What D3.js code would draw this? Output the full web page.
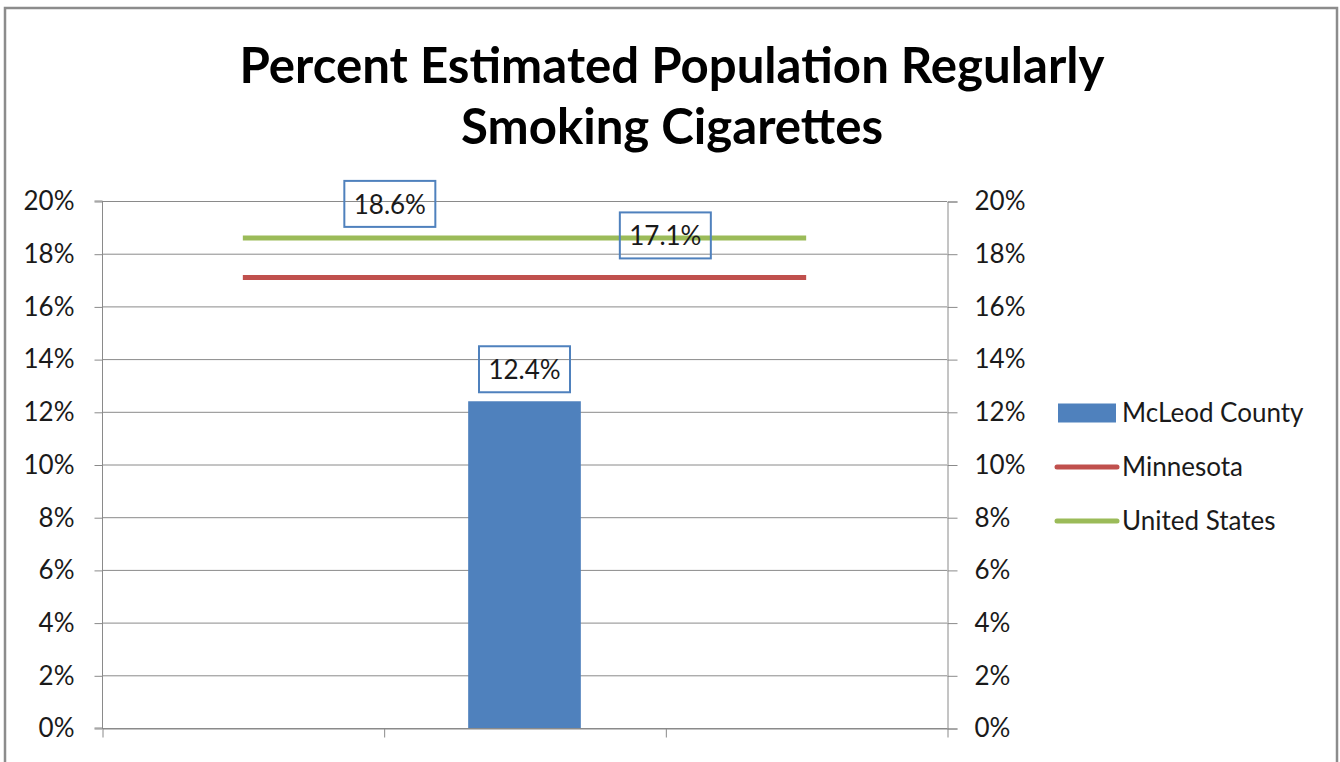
<!DOCTYPE html>
<html>
<head>
<meta charset="utf-8">
<script src="https://cdn.jsdelivr.net/npm/d3@7"></script>
<style>
  html, body { margin: 0; padding: 0; background: #fff; }
  svg { display: block; }
  text { font-family: Lato, "Liberation Sans", sans-serif; fill: #1a1a1a; }
</style>
</head>
<body>
<svg id="chart" width="1340" height="762"></svg>
<script>
// Three unlabeled category slots; the county bar sits in the middle one
const categories = ["slot1", "slot2", "slot3"];
const countyValues = [null, 12.4, null];
const minnesotaValues = [17.1, 17.1, 17.1];
const usValues = [18.6, 18.6, 18.6];
const yTicks = [0, 2, 4, 6, 8, 10, 12, 14, 16, 18, 20];
const seriesNames = ["McLeod County", "Minnesota", "United States"];
const titleLines = ["Percent Estimated Population Regularly", "Smoking Cigarettes"];

const colors = { county: "#4f81bd", mn: "#c0504d", us: "#9bbb59", grid: "#8a8a8a" };
const fontSize = 26;

const svg = d3.select("#chart");
const plot = { left: 102, right: 947, top: 201, bottom: 728 };

// outer chart frame
svg.append("rect")
  .attr("x", 5).attr("y", 8).attr("width", 1332).attr("height", 780)
  .attr("fill", "#fff").attr("stroke", "#8c8c8c").attr("stroke-width", 2.5);

// title
svg.append("g").selectAll("text").data(titleLines).join("text")
  .attr("x", 672).attr("y", (d, i) => 83 + i * 61)
  .attr("text-anchor", "middle")
  .attr("font-weight", "bold").attr("font-size", 50)
  .attr("textLength", (d, i) => i === 0 ? 865 : 422)
  .attr("lengthAdjust", "spacingAndGlyphs")
  .style("fill", "#000")
  .text(d => d);

const y = d3.scaleLinear().domain([0, 20]).range([plot.bottom, plot.top]);
const xIdx = d3.scaleLinear().domain([0, categories.length]).range([plot.left, plot.right]);
const xCenter = (i) => xIdx(i + 0.5);

// horizontal gridlines
svg.append("g").selectAll("line").data(yTicks).join("line")
  .attr("x1", plot.left).attr("x2", plot.right)
  .attr("y1", d => y(d) + 0.5).attr("y2", d => y(d) + 0.5)
  .attr("stroke", colors.grid).attr("stroke-width", 1);

const pct = d => d + "%";

// left axis
const gl = svg.append("g").attr("transform", `translate(${plot.left + 0.5},0.5)`)
  .call(d3.axisLeft(y).tickValues(yTicks).tickFormat(pct).tickSize(8).tickPadding(20));
// right axis
const gr = svg.append("g").attr("transform", `translate(${plot.right + 0.5},0.5)`)
  .call(d3.axisRight(y).tickValues(yTicks).tickFormat(pct).tickSize(10).tickPadding(17));
// bottom category axis (tick marks at category boundaries, no labels)
const gb = svg.append("g").attr("transform", `translate(0.5,${plot.bottom + 0.5})`)
  .call(d3.axisBottom(xIdx).tickValues(d3.range(categories.length + 1)).tickFormat("").tickSize(9).tickSizeOuter(0));

[gl, gr, gb].forEach(g => {
  g.select(".domain").attr("stroke", colors.grid);
  g.selectAll(".tick line").attr("stroke", colors.grid);
  g.selectAll(".tick text").attr("font-size", fontSize).style("fill", "#1a1a1a")
    .attr("font-family", "Lato, sans-serif");
});
gl.select(".domain").attr("d", `M-8,${plot.bottom - 0.5}H0V${plot.top - 0.5}H-8`).attr("fill", "none");

// county bar
const barW = (plot.right - plot.left) / categories.length * 0.4;
svg.append("g").selectAll("rect").data(countyValues.map((v, i) => ({ v, i })).filter(d => d.v != null)).join("rect")
  .attr("x", d => xCenter(d.i) - barW / 2)
  .attr("width", barW)
  .attr("y", d => y(d.v))
  .attr("height", d => y(0) - y(d.v))
  .attr("fill", colors.county);

// reference lines
const line = d3.line().x((d, i) => xCenter(i)).y(d => y(d));
svg.append("path").datum(minnesotaValues).attr("d", line)
  .attr("fill", "none").attr("stroke", colors.mn).attr("stroke-width", 5);
svg.append("path").datum(usValues).attr("d", line)
  .attr("fill", "none").attr("stroke", colors.us).attr("stroke-width", 5);

// boxed data labels
const labels = [
  { v: usValues[0], cx: xCenter(0) + 147, dy: -34 },
  { v: minnesotaValues[1], cx: xIdx(2), dy: -42 },
  { v: countyValues[1], cx: xCenter(1), dy: -32 }
];
const lg = svg.append("g").selectAll("g").data(labels).join("g")
  .attr("transform", d => `translate(${d.cx},${y(d.v) + d.dy})`);
lg.append("rect").attr("x", -45.5).attr("y", -23).attr("width", 91).attr("height", 46)
  .attr("fill", "none").attr("stroke", colors.county).attr("stroke-width", 2);
lg.append("text").attr("text-anchor", "middle").attr("y", 10)
  .attr("font-size", fontSize).text(d => d.v.toFixed(1) + "%");

// legend
const legend = svg.append("g").selectAll("g").data(seriesNames).join("g")
  .attr("transform", (d, i) => `translate(1057,${413 + i * 54})`);
legend.each(function (d, i) {
  const g = d3.select(this);
  if (i === 0) {
    g.append("rect").attr("x", 1).attr("y", -9.5).attr("width", 58).attr("height", 19).attr("fill", colors.county);
  } else {
    g.append("line").attr("x1", 0).attr("x2", 60).attr("y1", 0).attr("y2", 0)
      .attr("stroke", i === 1 ? colors.mn : colors.us).attr("stroke-width", 5).attr("stroke-linecap", "round");
  }
  g.append("text").attr("x", 65).attr("y", 9).attr("font-size", fontSize).text(d);
});
</script>
</body>
</html>
